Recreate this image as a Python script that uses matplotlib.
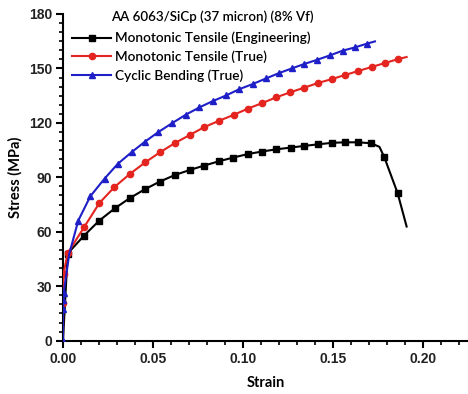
import matplotlib
matplotlib.use('Agg')
import matplotlib.pyplot as plt
from matplotlib.ticker import MultipleLocator

# Monotonic tensile (engineering) - black squares
eng_strain = [0.0, 0.0026, 0.0117, 0.0202, 0.0289, 0.0372, 0.0456, 0.0539, 0.0622,
              0.0706, 0.0785, 0.0868, 0.0946, 0.1026, 0.1104, 0.1183, 0.1265, 0.1339,
              0.1418, 0.1493, 0.1565, 0.1637, 0.1711, 0.1758, 0.1785, 0.1859, 0.1909]
eng_stress = [0.0, 48.0, 57.9, 66.2, 73.0, 78.6, 83.5, 87.7, 91.3,
              94.1, 96.5, 98.9, 100.9, 102.8, 104.2, 105.4, 106.4, 107.3,
              108.2, 109.0, 109.3, 109.3, 108.8, 106.8, 101.1, 81.3, 62.9]
eng_marks = [1, 2, 3, 4, 5, 6, 7, 8, 9, 10, 11, 12, 13, 14, 15, 16, 17, 18,
             19, 20, 21, 22, 24, 25]

# Monotonic tensile (true) - red circles
true_strain = [0.0, 0.0001, 0.0003, 0.0026, 0.0117, 0.0202, 0.0285, 0.0372, 0.0456,
               0.0539, 0.0622, 0.0706, 0.0785, 0.0868, 0.0950, 0.1026, 0.1106, 0.1185,
               0.1261, 0.1340, 0.1417, 0.1496, 0.1567, 0.1641, 0.1715, 0.1789, 0.1863,
               0.1909]
true_stress = [0.0, 21.0, 37.0, 48.2, 62.5, 75.8, 84.6, 91.9, 98.2,
               103.8, 108.9, 113.4, 117.7, 121.2, 124.5, 127.8, 130.9, 134.1,
               136.8, 139.4, 142.0, 144.2, 146.4, 148.6, 150.8, 153.0, 155.2,
               156.3]
true_marks = list(range(1, 27))

# Cyclic bending (true) - blue triangles
cyc_strain = [0.0, 0.0, 0.0002, 0.0004, 0.0035, 0.0085, 0.0152, 0.0231, 0.0304,
              0.0383, 0.0456, 0.0529, 0.0607, 0.0682, 0.0757, 0.0832, 0.0906, 0.0980,
              0.1054, 0.1128, 0.1202, 0.1271, 0.1339, 0.1413, 0.1483, 0.1554, 0.1622,
              0.1687, 0.1733]
cyc_stress = [0.0, 17.5, 22.4, 26.5, 48.0, 66.2, 79.6, 89.3, 97.4,
              104.0, 109.7, 114.9, 119.9, 124.5, 128.5, 132.0, 135.1, 138.6,
              141.4, 144.5, 147.5, 150.0, 152.4, 154.8, 157.2, 159.8, 161.6,
              163.6, 164.9]
cyc_marks = [0, 1, 2, 3] + list(range(5, 28))

RED = '#e3241f'
BLUE = '#1f1fc8'

fig = plt.figure(figsize=(4.68, 3.94), dpi=100)
ax = fig.add_axes([0.1346, 0.1353, 0.8654, 0.8292])

ax.plot(eng_strain, eng_stress, color='black', lw=1.5, marker='s', ms=4,
        markevery=eng_marks, label='Monotonic Tensile (Engineering)', zorder=3)
ax.plot(true_strain, true_stress, color=RED, lw=1.5, marker='o', ms=4.5,
        markevery=true_marks, label='Monotonic Tensile (True)', zorder=4)
ax.plot(cyc_strain, cyc_stress, color=BLUE, lw=1.5, marker='^', ms=5,
        markevery=cyc_marks, label='Cyclic Bending (True)', zorder=5)

ax.set_xlim(0, 0.225)
ax.set_ylim(0, 180)
ax.xaxis.set_major_locator(MultipleLocator(0.05))
ax.xaxis.set_minor_locator(MultipleLocator(0.01))
ax.yaxis.set_major_locator(MultipleLocator(30))
ax.yaxis.set_minor_locator(MultipleLocator(5))
ax.set_xticks([0, 0.05, 0.10, 0.15, 0.20])
ax.set_xticklabels(['0.00', '0.05', '0.10', '0.15', '0.20'])

for s in ['top', 'right']:
    ax.spines[s].set_visible(False)
for s in ['left', 'bottom']:
    ax.spines[s].set_linewidth(1.5)
ax.tick_params(which='major', direction='out', length=5, width=1.5, pad=3)
ax.tick_params(which='minor', direction='out', length=3, width=1.2)
for lab in ax.get_xticklabels() + ax.get_yticklabels():
    lab.set_fontfamily('Liberation Sans')
    lab.set_fontweight('bold')
    lab.set_fontsize(10)
    lab.set_color('#222222')

ax.set_xlabel('Strain', fontfamily='Lato', fontweight='bold', fontsize=10.5, labelpad=7)
ax.set_ylabel('Stress (MPa)', fontfamily='Lato', fontweight='bold', fontsize=10.5, labelpad=4)

ax.text(0.118, 0.993, 'AA 6063/SiCp (37 micron) (8% Vf)', transform=ax.transAxes,
        fontfamily='Lato', fontweight='semibold', fontsize=9.6, va='center', ha='left')
ax.legend(loc='upper left', bbox_to_anchor=(0.01, 0.962), frameon=False,
          prop={'family': 'Lato', 'size': 9.8, 'weight': 'semibold'}, handlelength=2.8,
          handletextpad=0.3, labelspacing=0.45, borderaxespad=0)

fig.savefig('out.png', dpi=100)
